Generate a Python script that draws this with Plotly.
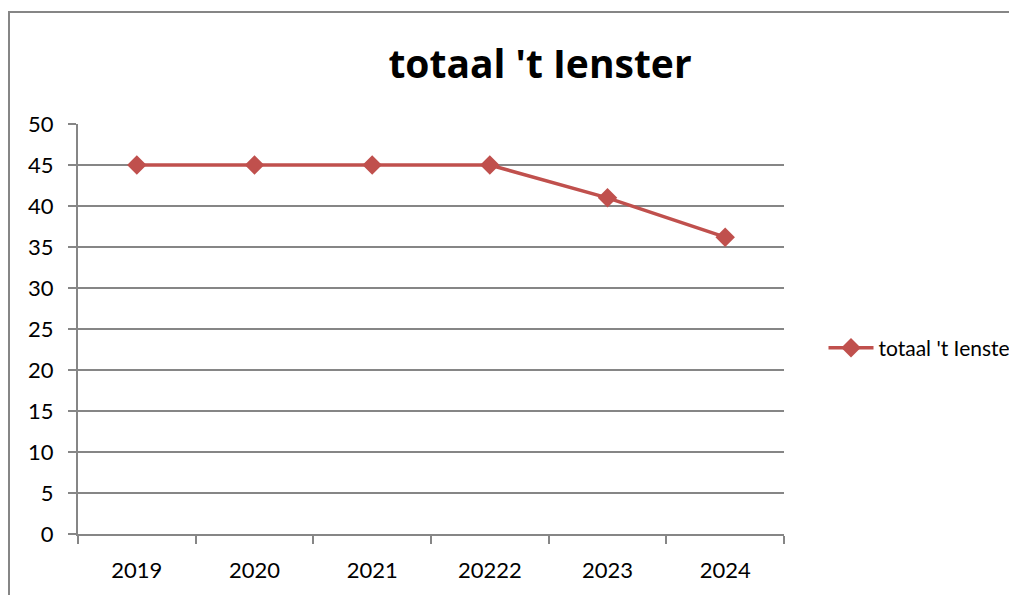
import plotly.graph_objects as go

categories = ["2019", "2020", "2021", "20222", "2023", "2024"]
values = [45, 45, 45, 45, 41, 36.2]
series_name = "totaal 't Ienster"
title_text = "totaal 't Ienster"

# page has an 8px body margin, so figure coords = page coords - 8
W, H = 1009, 587
L, R, T, B = 70, 1009 - 776, 116, 587 - 526
pw, ph = W - L - R, H - T - B

grid_col = "#868686"
red = "#C0504D"
font_fam = "Lato, Calibri, Carlito, sans-serif"

fig = go.Figure()
fig.add_trace(go.Scatter(
    x=categories, y=values, name=series_name, mode="lines+markers",
    line=dict(color=red, width=3.5),
    marker=dict(symbol="diamond", size=15, color=red),
))

fig.update_layout(
    width=W, height=H,
    margin=dict(l=L, r=R, t=T, b=B, autoexpand=False),
    paper_bgcolor="white", plot_bgcolor="white",
    font=dict(family=font_fam, size=22, color="black"),
    title=dict(text="<b>" + title_text + "</b>", x=532 / W, xanchor="center",
               y=1 - 56 / H, yanchor="middle",
               font=dict(family="Open Sans, sans-serif", size=39, color="black")),
    showlegend=True,
    legend=dict(x=(815.5 - L) / pw, xanchor="left", y=(526 - 340) / ph, yanchor="middle",
                font=dict(family=font_fam, size=21, color="black"),
                bgcolor="rgba(0,0,0,0)", itemwidth=45),
    xaxis=dict(type="category", range=[-0.5, len(categories) - 0.5],
               showgrid=False, showline=True, linecolor=grid_col, linewidth=2,
               ticks="outside", tickson="boundaries", ticklen=8, tickcolor=grid_col, tickwidth=2,
               tickfont=dict(size=22), zeroline=False, ticklabelstandoff=16),
    yaxis=dict(range=[0, 50], dtick=5, showgrid=True, gridcolor=grid_col, gridwidth=2,
               showline=True, linecolor=grid_col, linewidth=2,
               ticks="outside", ticklen=8, tickcolor=grid_col, tickwidth=2,
               tickfont=dict(size=22), zeroline=False, ticklabelstandoff=10),
    shapes=[dict(type="rect", xref="paper", yref="paper",
                 x0=(1 - L) / pw, x1=2.0, y0=-1.0, y1=1 + (T - 4) / ph,
                 line=dict(color=grid_col, width=2), fillcolor="rgba(0,0,0,0)", layer="below")],
)

fig.write_html("out.html")
